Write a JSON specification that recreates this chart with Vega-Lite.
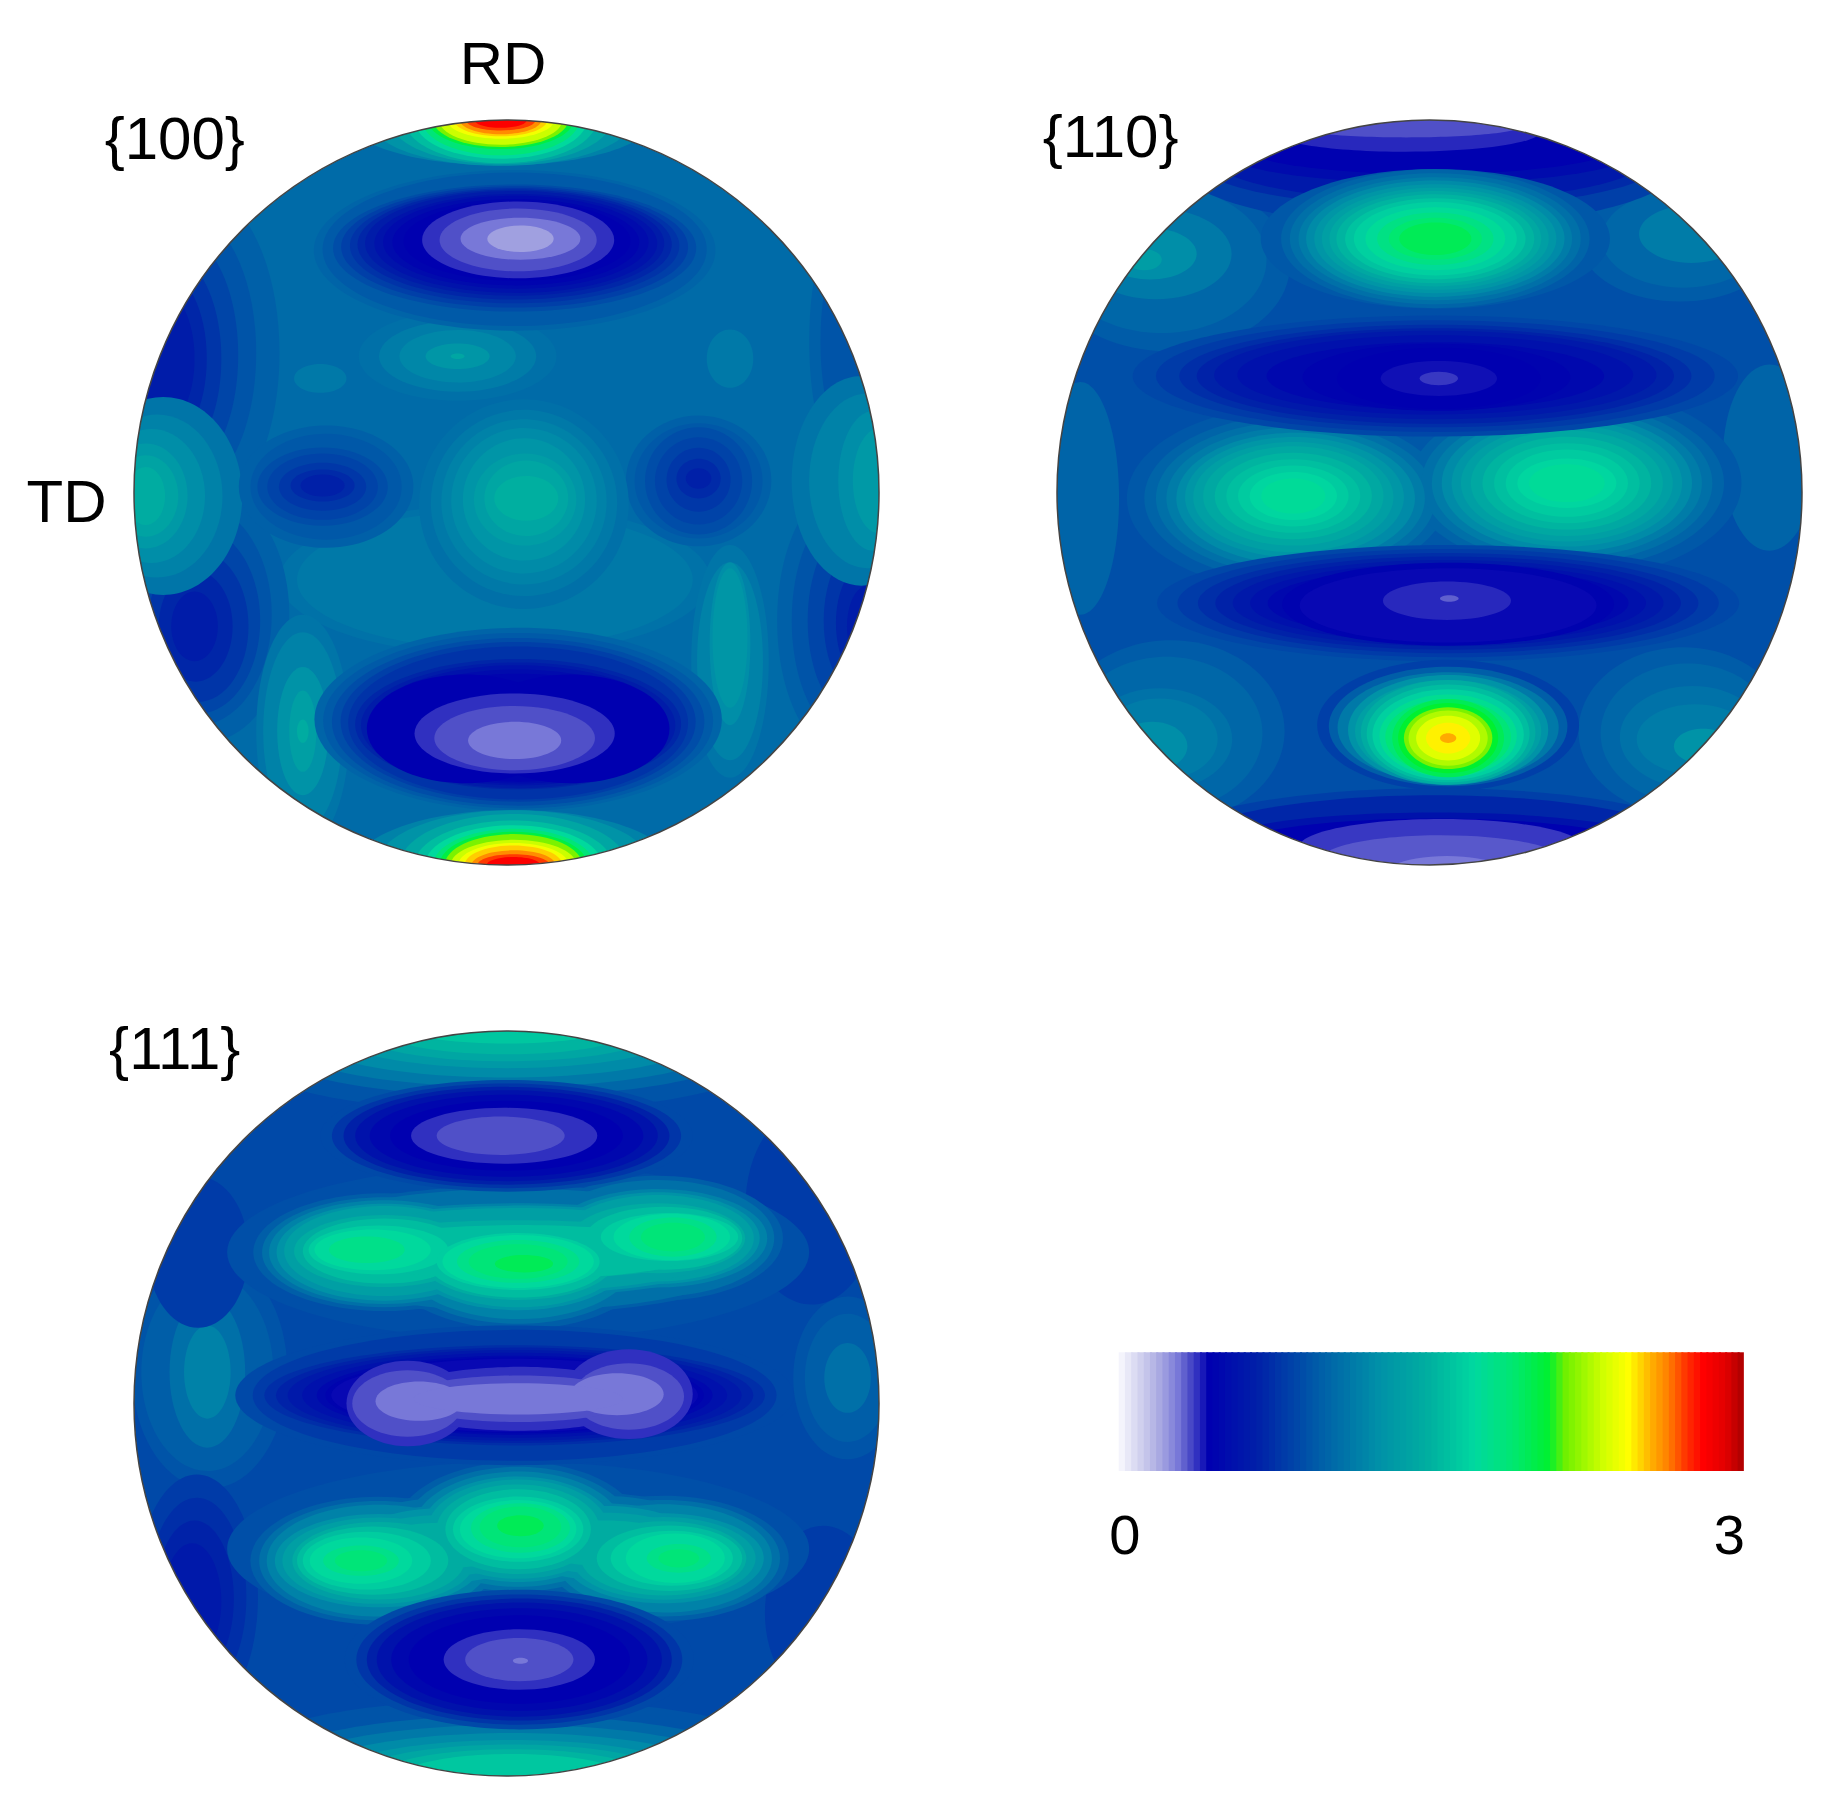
{"$schema":"https://vega.github.io/schema/vega-lite/v6.json","background":"white","padding":{"left":26,"top":36,"right":0,"bottom":0},"config":{"view":{"stroke":null},"text":{"font":"Liberation Sans"}},"datasets":{"blobs":[
{"p":100,"x":0,"y":0,"w":640,"a":1,"v":1.02},{"p":100,"x":-10,"y":75,"w":370,"a":0.35,"v":1.06},{"p":100,"x":-10,"y":75,"w":340,"a":0.35,"v":1.1},
{"p":100,"x":-265,"y":-120,"w":280,"a":2,"v":0.96},{"p":100,"x":-275,"y":-120,"w":240,"a":2,"v":0.9},{"p":100,"x":-283,"y":-118,"w":210,"a":2,"v":0.83},{"p":100,"x":-290,"y":-115,"w":180,"a":2,"v":0.75},{"p":100,"x":-295,"y":-115,"w":150,"a":2,"v":0.68},{"p":100,"x":-298,"y":-115,"w":120,"a":2,"v":0.62},
{"p":100,"x":-260,"y":105,"w":220,"a":1.5,"v":0.96},{"p":100,"x":-265,"y":105,"w":190,"a":1.5,"v":0.9},{"p":100,"x":-265,"y":110,"w":160,"a":1.5,"v":0.83},{"p":100,"x":-265,"y":115,"w":130,"a":1.5,"v":0.75},{"p":100,"x":-267,"y":115,"w":95,"a":1.5,"v":0.68},{"p":100,"x":-268,"y":115,"w":60,"a":1.5,"v":0.62},
{"p":100,"x":290,"y":110,"w":230,"a":2,"v":0.96},{"p":100,"x":295,"y":110,"w":200,"a":2,"v":0.9},{"p":100,"x":300,"y":110,"w":165,"a":2,"v":0.83},{"p":100,"x":305,"y":110,"w":130,"a":2,"v":0.75},{"p":100,"x":308,"y":112,"w":100,"a":2,"v":0.68},{"p":100,"x":310,"y":115,"w":70,"a":2,"v":0.62},{"p":100,"x":300,"y":-130,"w":240,"a":3,"v":0.96},{"p":100,"x":303,"y":-130,"w":200,"a":3,"v":0.9},
{"p":100,"x":-295,"y":3,"w":170,"a":1.25,"v":1.08},{"p":100,"x":-300,"y":3,"w":140,"a":1.25,"v":1.15},{"p":100,"x":-305,"y":3,"w":115,"a":1.25,"v":1.22},{"p":100,"x":-310,"y":3,"w":90,"a":1.25,"v":1.3},{"p":100,"x":-310,"y":3,"w":70,"a":1.25,"v":1.38},{"p":100,"x":-310,"y":3,"w":50,"a":1.5,"v":1.45},
{"p":100,"x":305,"y":-10,"w":180,"a":1.5,"v":1.08},{"p":100,"x":310,"y":-10,"w":150,"a":1.5,"v":1.15},{"p":100,"x":315,"y":-10,"w":120,"a":2,"v":1.22},{"p":100,"x":320,"y":-10,"w":90,"a":2,"v":1.3},
{"p":100,"x":-155,"y":-5,"w":150,"a":0.7,"v":0.96},{"p":100,"x":-155,"y":-5,"w":130,"a":0.7,"v":0.92},{"p":100,"x":-158,"y":-5,"w":112,"a":0.6,"v":0.87},{"p":100,"x":-158,"y":-5,"w":95,"a":0.6,"v":0.82},{"p":100,"x":-158,"y":-5,"w":75,"a":0.55,"v":0.76},{"p":100,"x":-158,"y":-6,"w":55,"a":0.5,"v":0.7},{"p":100,"x":-158,"y":-6,"w":38,"a":0.5,"v":0.65},
{"p":100,"x":165,"y":-10,"w":125,"a":0.9,"v":0.96},{"p":100,"x":165,"y":-10,"w":110,"a":0.9,"v":0.92},{"p":100,"x":165,"y":-10,"w":92,"a":1,"v":0.87},{"p":100,"x":165,"y":-10,"w":75,"a":1,"v":0.82},{"p":100,"x":165,"y":-11,"w":55,"a":1,"v":0.76},{"p":100,"x":165,"y":-12,"w":38,"a":0.9,"v":0.7},{"p":100,"x":165,"y":-12,"w":22,"a":0.8,"v":0.65},
{"p":100,"x":15,"y":10,"w":180,"a":1,"v":1.05},{"p":100,"x":15,"y":9,"w":160,"a":1,"v":1.1},{"p":100,"x":15,"y":8,"w":142,"a":1,"v":1.15},{"p":100,"x":15,"y":7,"w":125,"a":1,"v":1.2},{"p":100,"x":15,"y":6,"w":105,"a":1,"v":1.27},{"p":100,"x":16,"y":6,"w":88,"a":0.9,"v":1.33},{"p":100,"x":17,"y":5,"w":72,"a":0.9,"v":1.4},{"p":100,"x":17,"y":5,"w":55,"a":0.7,"v":1.47},
{"p":100,"x":-42,"y":-117,"w":170,"a":0.45,"v":1.05},{"p":100,"x":-42,"y":-117,"w":135,"a":0.45,"v":1.12},{"p":100,"x":-42,"y":-117,"w":100,"a":0.45,"v":1.18},{"p":100,"x":-42,"y":-117,"w":55,"a":0.4,"v":1.28},{"p":100,"x":-42,"y":-117,"w":12,"a":0.4,"v":1.4},
{"p":100,"x":-160,"y":-98,"w":45,"a":0.55,"v":1.1},{"p":100,"x":192,"y":-115,"w":50,"a":1.25,"v":1.1},
{"p":100,"x":-175,"y":205,"w":200,"a":2.5,"v":1.08},{"p":100,"x":-175,"y":205,"w":170,"a":2.5,"v":1.15},{"p":100,"x":-175,"y":205,"w":110,"a":2.5,"v":1.25},{"p":100,"x":-175,"y":205,"w":70,"a":3,"v":1.35},{"p":100,"x":-175,"y":205,"w":20,"a":2,"v":1.45},
{"p":100,"x":192,"y":145,"w":200,"a":3,"v":1.08},{"p":100,"x":192,"y":145,"w":170,"a":3,"v":1.15},{"p":100,"x":192,"y":130,"w":140,"a":4,"v":1.22},{"p":100,"x":192,"y":125,"w":120,"a":4,"v":1.28},
{"p":100,"x":7,"y":-208,"w":345,"a":0.4,"v":0.98},{"p":100,"x":7,"y":-209,"w":330,"a":0.4,"v":0.93},{"p":100,"x":7,"y":-210,"w":312,"a":0.35,"v":0.87},{"p":100,"x":7,"y":-211,"w":298,"a":0.35,"v":0.8},{"p":100,"x":7,"y":-212,"w":283,"a":0.35,"v":0.74},{"p":100,"x":7,"y":-213,"w":270,"a":0.35,"v":0.68},{"p":100,"x":7,"y":-214,"w":257,"a":0.35,"v":0.62},{"p":100,"x":8,"y":-214,"w":243,"a":0.35,"v":0.56},{"p":100,"x":8,"y":-215,"w":228,"a":0.35,"v":0.5},{"p":100,"x":8,"y":-215,"w":212,"a":0.35,"v":0.45},{"p":100,"x":9,"y":-216,"w":195,"a":0.35,"v":0.42},
{"p":100,"x":10,"y":-217,"w":165,"a":0.4,"v":0.36},{"p":100,"x":10,"y":-217,"w":135,"a":0.4,"v":0.32},{"p":100,"x":12,"y":-218,"w":103,"a":0.35,"v":0.27},{"p":100,"x":12,"y":-218,"w":57,"a":0.4,"v":0.2},
{"p":100,"x":10,"y":195,"w":350,"a":0.45,"v":0.98},{"p":100,"x":10,"y":196,"w":335,"a":0.45,"v":0.93},{"p":100,"x":10,"y":197,"w":320,"a":0.45,"v":0.87},{"p":100,"x":10,"y":197,"w":305,"a":0.45,"v":0.8},{"p":100,"x":10,"y":198,"w":292,"a":0.45,"v":0.74},{"p":100,"x":10,"y":199,"w":280,"a":0.4,"v":0.68},{"p":100,"x":10,"y":200,"w":270,"a":0.4,"v":0.62},{"p":100,"x":10,"y":200,"w":258,"a":0.4,"v":0.56},{"p":100,"x":10,"y":201,"w":245,"a":0.4,"v":0.5},{"p":100,"x":10,"y":202,"w":232,"a":0.4,"v":0.45},{"p":100,"x":-35,"y":203,"w":170,"a":0.55,"v":0.42},{"p":100,"x":55,"y":203,"w":170,"a":0.55,"v":0.42},
{"p":100,"x":7,"y":207,"w":172,"a":0.4,"v":0.36},{"p":100,"x":7,"y":211,"w":138,"a":0.4,"v":0.32},{"p":100,"x":7,"y":213,"w":80,"a":0.4,"v":0.27},
{"p":100,"x":-5,"y":-320,"w":260,"a":0.3,"v":1.15},{"p":100,"x":-5,"y":-320,"w":225,"a":0.35,"v":1.25},{"p":100,"x":-5,"y":-320,"w":190,"a":0.4,"v":1.4},{"p":100,"x":-5,"y":-320,"w":165,"a":0.45,"v":1.55},{"p":100,"x":-5,"y":-320,"w":148,"a":0.45,"v":1.7},{"p":100,"x":-5,"y":-320,"w":135,"a":0.45,"v":1.85},{"p":100,"x":-5,"y":-320,"w":125,"a":0.4,"v":2},{"p":100,"x":-5,"y":-320,"w":116,"a":0.4,"v":2.15},{"p":100,"x":-5,"y":-320,"w":106,"a":0.4,"v":2.3},{"p":100,"x":-5,"y":-320,"w":92,"a":0.35,"v":2.4},{"p":100,"x":-5,"y":-320,"w":80,"a":0.35,"v":2.5},{"p":100,"x":-5,"y":-320,"w":70,"a":0.35,"v":2.6},{"p":100,"x":-5,"y":-320,"w":60,"a":0.3,"v":2.7},{"p":100,"x":-5,"y":-320,"w":45,"a":0.3,"v":2.8},
{"p":100,"x":6,"y":320,"w":270,"a":0.35,"v":1.15},{"p":100,"x":6,"y":320,"w":235,"a":0.4,"v":1.25},{"p":100,"x":6,"y":320,"w":195,"a":0.45,"v":1.4},{"p":100,"x":6,"y":320,"w":170,"a":0.45,"v":1.55},{"p":100,"x":6,"y":320,"w":152,"a":0.45,"v":1.7},{"p":100,"x":6,"y":320,"w":138,"a":0.45,"v":1.85},{"p":100,"x":6,"y":320,"w":127,"a":0.45,"v":2},{"p":100,"x":6,"y":320,"w":118,"a":0.45,"v":2.15},{"p":100,"x":6,"y":320,"w":108,"a":0.4,"v":2.3},{"p":100,"x":6,"y":320,"w":95,"a":0.4,"v":2.4},{"p":100,"x":6,"y":320,"w":84,"a":0.4,"v":2.5},{"p":100,"x":6,"y":320,"w":72,"a":0.35,"v":2.6},{"p":100,"x":6,"y":320,"w":62,"a":0.3,"v":2.7},{"p":100,"x":6,"y":320,"w":46,"a":0.3,"v":2.8},

{"p":110,"x":0,"y":0,"w":640,"a":1,"v":0.88},
{"p":110,"x":-225,"y":-195,"w":210,"a":0.7,"v":0.94},{"p":110,"x":-230,"y":-200,"w":180,"a":0.7,"v":1},{"p":110,"x":-235,"y":-205,"w":130,"a":0.6,"v":1.1},{"p":110,"x":-240,"y":-205,"w":80,"a":0.55,"v":1.22},{"p":110,"x":-245,"y":-200,"w":30,"a":0.6,"v":1.33},
{"p":110,"x":215,"y":-215,"w":170,"a":0.6,"v":0.94},{"p":110,"x":218,"y":-218,"w":140,"a":0.6,"v":1},{"p":110,"x":225,"y":-222,"w":90,"a":0.55,"v":1.12},
{"p":110,"x":-222,"y":205,"w":195,"a":0.8,"v":0.94},{"p":110,"x":-226,"y":207,"w":165,"a":0.8,"v":1},{"p":110,"x":-232,"y":212,"w":125,"a":0.7,"v":1.06},{"p":110,"x":-232,"y":212,"w":100,"a":0.7,"v":1.12},{"p":110,"x":-238,"y":218,"w":60,"a":0.7,"v":1.22},
{"p":110,"x":218,"y":205,"w":180,"a":0.8,"v":0.94},{"p":110,"x":222,"y":207,"w":150,"a":0.8,"v":1},{"p":110,"x":226,"y":210,"w":125,"a":0.7,"v":1.06},{"p":110,"x":228,"y":212,"w":100,"a":0.6,"v":1.12},{"p":110,"x":235,"y":218,"w":50,"a":0.6,"v":1.25},
{"p":110,"x":292,"y":-30,"w":160,"a":2,"v":0.98},{"p":110,"x":-300,"y":5,"w":200,"a":3,"v":0.98},
{"p":110,"x":-115,"y":5,"w":290,"a":0.55,"v":0.92},{"p":110,"x":118,"y":-8,"w":300,"a":0.55,"v":0.92},
{"p":110,"x":-115,"y":5,"w":260,"a":0.55,"v":0.98},{"p":110,"x":118,"y":-8,"w":270,"a":0.55,"v":0.98},
{"p":110,"x":-115,"y":5,"w":240,"a":0.55,"v":1.05},{"p":110,"x":118,"y":-8,"w":250,"a":0.55,"v":1.05},
{"p":110,"x":-115,"y":5,"w":222,"a":0.55,"v":1.12},{"p":110,"x":118,"y":-8,"w":232,"a":0.55,"v":1.12},
{"p":110,"x":-115,"y":5,"w":205,"a":0.55,"v":1.2},{"p":110,"x":118,"y":-8,"w":215,"a":0.55,"v":1.2},
{"p":110,"x":-116,"y":4,"w":188,"a":0.55,"v":1.28},{"p":110,"x":118,"y":-8,"w":198,"a":0.55,"v":1.28},
{"p":110,"x":-117,"y":4,"w":172,"a":0.55,"v":1.35},{"p":110,"x":118,"y":-8,"w":182,"a":0.55,"v":1.35},
{"p":110,"x":-117,"y":3,"w":155,"a":0.55,"v":1.42},{"p":110,"x":118,"y":-8,"w":165,"a":0.55,"v":1.42},
{"p":110,"x":-117,"y":3,"w":135,"a":0.55,"v":1.5},{"p":110,"x":118,"y":-8,"w":145,"a":0.55,"v":1.5},
{"p":110,"x":-117,"y":3,"w":115,"a":0.55,"v":1.56},{"p":110,"x":118,"y":-8,"w":125,"a":0.55,"v":1.56},
{"p":110,"x":-117,"y":3,"w":95,"a":0.55,"v":1.62},{"p":110,"x":118,"y":-8,"w":105,"a":0.55,"v":1.62},
{"p":110,"x":-117,"y":3,"w":75,"a":0.55,"v":1.68},{"p":110,"x":118,"y":-8,"w":85,"a":0.5,"v":1.68},
{"p":110,"x":-117,"y":3,"w":55,"a":0.55,"v":1.72},{"p":110,"x":118,"y":-8,"w":65,"a":0.5,"v":1.72},
{"p":110,"x":0,"y":-282,"w":430,"a":0.25,"v":0.8},{"p":110,"x":0,"y":-285,"w":400,"a":0.2,"v":0.7},{"p":110,"x":0,"y":-288,"w":375,"a":0.2,"v":0.6},{"p":110,"x":0,"y":-292,"w":350,"a":0.15,"v":0.5},{"p":110,"x":0,"y":-298,"w":325,"a":0.15,"v":0.43},{"p":110,"x":-20,"y":-310,"w":230,"a":0.15,"v":0.37},{"p":110,"x":-20,"y":-315,"w":200,"a":0.1,"v":0.32},
{"p":110,"x":5,"y":-218,"w":300,"a":0.4,"v":0.92},{"p":110,"x":5,"y":-218,"w":265,"a":0.45,"v":0.98},{"p":110,"x":5,"y":-218,"w":250,"a":0.45,"v":1.05},{"p":110,"x":5,"y":-218,"w":235,"a":0.45,"v":1.12},{"p":110,"x":5,"y":-218,"w":222,"a":0.45,"v":1.2},{"p":110,"x":5,"y":-218,"w":208,"a":0.45,"v":1.28},{"p":110,"x":5,"y":-218,"w":195,"a":0.45,"v":1.35},{"p":110,"x":5,"y":-218,"w":182,"a":0.45,"v":1.42},{"p":110,"x":5,"y":-218,"w":170,"a":0.45,"v":1.5},{"p":110,"x":5,"y":-218,"w":155,"a":0.45,"v":1.58},{"p":110,"x":5,"y":-218,"w":140,"a":0.45,"v":1.65},{"p":110,"x":5,"y":-218,"w":120,"a":0.45,"v":1.72},{"p":110,"x":5,"y":-218,"w":100,"a":0.45,"v":1.8},{"p":110,"x":5,"y":-218,"w":80,"a":0.45,"v":1.88},{"p":110,"x":5,"y":-218,"w":62,"a":0.45,"v":1.95},
{"p":110,"x":5,"y":-100,"w":520,"a":0.2,"v":0.84},{"p":110,"x":5,"y":-100,"w":480,"a":0.2,"v":0.78},{"p":110,"x":5,"y":-100,"w":440,"a":0.2,"v":0.72},{"p":110,"x":5,"y":-100,"w":410,"a":0.2,"v":0.66},{"p":110,"x":5,"y":-101,"w":380,"a":0.2,"v":0.6},{"p":110,"x":5,"y":-101,"w":340,"a":0.2,"v":0.54},{"p":110,"x":5,"y":-100,"w":290,"a":0.2,"v":0.48},{"p":110,"x":6,"y":-99,"w":230,"a":0.25,"v":0.44},{"p":110,"x":8,"y":-98,"w":175,"a":0.3,"v":0.42},{"p":110,"x":8,"y":-98,"w":100,"a":0.3,"v":0.4},{"p":110,"x":8,"y":-98,"w":33,"a":0.35,"v":0.35},
{"p":110,"x":16,"y":95,"w":500,"a":0.2,"v":0.84},{"p":110,"x":16,"y":95,"w":465,"a":0.2,"v":0.78},{"p":110,"x":16,"y":95,"w":430,"a":0.2,"v":0.72},{"p":110,"x":16,"y":95,"w":400,"a":0.2,"v":0.66},{"p":110,"x":16,"y":95,"w":370,"a":0.2,"v":0.6},{"p":110,"x":16,"y":95,"w":340,"a":0.2,"v":0.54},{"p":110,"x":16,"y":95,"w":310,"a":0.2,"v":0.48},{"p":110,"x":16,"y":96,"w":285,"a":0.25,"v":0.44},{"p":110,"x":16,"y":97,"w":255,"a":0.25,"v":0.41},{"p":110,"x":15,"y":93,"w":110,"a":0.3,"v":0.37},{"p":110,"x":17,"y":91,"w":16,"a":0.35,"v":0.3},
{"p":110,"x":16,"y":200,"w":225,"a":0.5,"v":0.8},{"p":110,"x":16,"y":201,"w":205,"a":0.5,"v":0.95},{"p":110,"x":16,"y":202,"w":190,"a":0.5,"v":1.1},{"p":110,"x":16,"y":204,"w":172,"a":0.55,"v":1.25},{"p":110,"x":16,"y":205,"w":160,"a":0.55,"v":1.35},{"p":110,"x":16,"y":206,"w":150,"a":0.6,"v":1.45},{"p":110,"x":16,"y":207,"w":140,"a":0.6,"v":1.55},{"p":110,"x":16,"y":208,"w":130,"a":0.6,"v":1.65},{"p":110,"x":16,"y":209,"w":118,"a":0.6,"v":1.75},{"p":110,"x":16,"y":210,"w":108,"a":0.6,"v":1.85},{"p":110,"x":16,"y":211,"w":96,"a":0.7,"v":1.95},{"p":110,"x":16,"y":211,"w":86,"a":0.7,"v":2.05},{"p":110,"x":16,"y":211,"w":76,"a":0.7,"v":2.15},{"p":110,"x":16,"y":211,"w":68,"a":0.7,"v":2.25},{"p":110,"x":16,"y":211,"w":55,"a":0.7,"v":2.35},{"p":110,"x":16,"y":211,"w":38,"a":0.7,"v":2.45},{"p":110,"x":16,"y":211,"w":14,"a":0.6,"v":2.55},
{"p":110,"x":5,"y":300,"w":460,"a":0.2,"v":0.8},{"p":110,"x":5,"y":303,"w":430,"a":0.2,"v":0.68},{"p":110,"x":5,"y":305,"w":400,"a":0.15,"v":0.55},{"p":110,"x":5,"y":307,"w":360,"a":0.15,"v":0.43},{"p":110,"x":10,"y":305,"w":245,"a":0.2,"v":0.35},{"p":110,"x":10,"y":315,"w":205,"a":0.2,"v":0.31},{"p":110,"x":15,"y":328,"w":105,"a":0.3,"v":0.27},

{"p":111,"x":0,"y":0,"w":640,"a":1,"v":0.85},
{"p":111,"x":0,"y":-295,"w":440,"a":0.2,"v":0.9},{"p":111,"x":0,"y":-305,"w":410,"a":0.2,"v":1},{"p":111,"x":0,"y":-310,"w":380,"a":0.2,"v":1.1},{"p":111,"x":0,"y":-314,"w":340,"a":0.2,"v":1.2},{"p":111,"x":0,"y":-318,"w":300,"a":0.2,"v":1.3},{"p":111,"x":0,"y":-320,"w":260,"a":0.2,"v":1.4},{"p":111,"x":0,"y":-322,"w":220,"a":0.2,"v":1.5},{"p":111,"x":0,"y":-322,"w":170,"a":0.15,"v":1.6},
{"p":111,"x":5,"y":300,"w":460,"a":0.2,"v":0.9},{"p":111,"x":5,"y":310,"w":420,"a":0.2,"v":1},{"p":111,"x":5,"y":315,"w":390,"a":0.2,"v":1.1},{"p":111,"x":5,"y":318,"w":350,"a":0.2,"v":1.2},{"p":111,"x":5,"y":320,"w":310,"a":0.2,"v":1.3},{"p":111,"x":5,"y":320,"w":270,"a":0.2,"v":1.4},{"p":111,"x":5,"y":320,"w":230,"a":0.2,"v":1.5},{"p":111,"x":5,"y":320,"w":190,"a":0.2,"v":1.6},
{"p":111,"x":-255,"y":-27,"w":200,"a":1.5,"v":0.9},{"p":111,"x":-257,"y":-27,"w":170,"a":1.5,"v":0.95},{"p":111,"x":-257,"y":-27,"w":130,"a":2,"v":1.05},{"p":111,"x":-257,"y":-27,"w":80,"a":2,"v":1.15},
{"p":111,"x":293,"y":-22,"w":140,"a":1.5,"v":0.9},{"p":111,"x":293,"y":-22,"w":110,"a":1.5,"v":0.95},{"p":111,"x":293,"y":-22,"w":60,"a":1.5,"v":1.05},
{"p":111,"x":-266,"y":166,"w":210,"a":2,"v":0.78},{"p":111,"x":-266,"y":166,"w":170,"a":2,"v":0.72},{"p":111,"x":-268,"y":168,"w":135,"a":2,"v":0.66},{"p":111,"x":-270,"y":170,"w":100,"a":2,"v":0.6},
{"p":111,"x":262,"y":-170,"w":170,"a":1.5,"v":0.78},{"p":111,"x":-265,"y":-130,"w":130,"a":1.5,"v":0.78},{"p":111,"x":272,"y":180,"w":150,"a":1.5,"v":0.78},
{"p":111,"x":10,"y":-130,"w":500,"a":0.3,"v":0.88},
{"p":111,"x":-105,"y":-130,"w":225,"a":0.45,"v":0.95},{"p":111,"x":10,"y":-120,"w":225,"a":0.5,"v":0.95},{"p":111,"x":130,"y":-142,"w":215,"a":0.5,"v":0.95},{"p":111,"x":10,"y":-132,"w":440,"a":0.25,"v":0.95},
{"p":111,"x":-105,"y":-130,"w":210,"a":0.45,"v":1.05},{"p":111,"x":10,"y":-121,"w":210,"a":0.5,"v":1.05},{"p":111,"x":130,"y":-142,"w":200,"a":0.5,"v":1.05},{"p":111,"x":10,"y":-132,"w":420,"a":0.25,"v":1.05},
{"p":111,"x":-105,"y":-130,"w":198,"a":0.45,"v":1.15},{"p":111,"x":10,"y":-122,"w":198,"a":0.5,"v":1.15},{"p":111,"x":130,"y":-142,"w":188,"a":0.45,"v":1.15},{"p":111,"x":10,"y":-132,"w":400,"a":0.2,"v":1.15},
{"p":111,"x":-105,"y":-130,"w":185,"a":0.45,"v":1.25},{"p":111,"x":10,"y":-122,"w":186,"a":0.45,"v":1.25},{"p":111,"x":130,"y":-142,"w":175,"a":0.45,"v":1.25},{"p":111,"x":10,"y":-132,"w":380,"a":0.2,"v":1.25},
{"p":111,"x":-105,"y":-131,"w":172,"a":0.45,"v":1.35},{"p":111,"x":10,"y":-122,"w":175,"a":0.45,"v":1.35},{"p":111,"x":130,"y":-142,"w":165,"a":0.45,"v":1.35},{"p":111,"x":10,"y":-132,"w":360,"a":0.2,"v":1.35},
{"p":111,"x":-105,"y":-131,"w":155,"a":0.4,"v":1.45},{"p":111,"x":10,"y":-122,"w":165,"a":0.4,"v":1.45},{"p":111,"x":130,"y":-142,"w":150,"a":0.4,"v":1.45},{"p":111,"x":10,"y":-132,"w":340,"a":0.15,"v":1.45},
{"p":111,"x":-105,"y":-131,"w":140,"a":0.4,"v":1.55},{"p":111,"x":10,"y":-122,"w":155,"a":0.4,"v":1.55},{"p":111,"x":135,"y":-142,"w":135,"a":0.4,"v":1.55},{"p":111,"x":10,"y":-130,"w":310,"a":0.15,"v":1.55},
{"p":111,"x":-110,"y":-132,"w":120,"a":0.35,"v":1.63},{"p":111,"x":10,"y":-122,"w":140,"a":0.35,"v":1.63},{"p":111,"x":140,"y":-143,"w":118,"a":0.35,"v":1.63},
{"p":111,"x":-115,"y":-132,"w":100,"a":0.35,"v":1.7},{"p":111,"x":10,"y":-122,"w":130,"a":0.35,"v":1.7},{"p":111,"x":142,"y":-143,"w":100,"a":0.4,"v":1.7},
{"p":111,"x":-120,"y":-132,"w":65,"a":0.35,"v":1.78},{"p":111,"x":10,"y":-122,"w":105,"a":0.35,"v":1.78},{"p":111,"x":143,"y":-143,"w":75,"a":0.45,"v":1.78},
{"p":111,"x":10,"y":-122,"w":85,"a":0.35,"v":1.85},{"p":111,"x":143,"y":-143,"w":55,"a":0.45,"v":1.85},{"p":111,"x":15,"y":-120,"w":50,"a":0.3,"v":1.95},
{"p":111,"x":10,"y":125,"w":500,"a":0.3,"v":0.88},
{"p":111,"x":-110,"y":135,"w":220,"a":0.5,"v":0.95},{"p":111,"x":10,"y":108,"w":210,"a":0.55,"v":0.95},{"p":111,"x":135,"y":133,"w":215,"a":0.5,"v":0.95},{"p":111,"x":-55,"y":122,"w":190,"a":0.45,"v":0.95},{"p":111,"x":85,"y":120,"w":190,"a":0.45,"v":0.95},
{"p":111,"x":-110,"y":135,"w":205,"a":0.5,"v":1.05},{"p":111,"x":10,"y":108,"w":195,"a":0.55,"v":1.05},{"p":111,"x":135,"y":133,"w":200,"a":0.5,"v":1.05},{"p":111,"x":-55,"y":122,"w":180,"a":0.45,"v":1.05},{"p":111,"x":85,"y":120,"w":180,"a":0.45,"v":1.05},
{"p":111,"x":-110,"y":135,"w":192,"a":0.5,"v":1.15},{"p":111,"x":10,"y":108,"w":180,"a":0.55,"v":1.15},{"p":111,"x":135,"y":133,"w":186,"a":0.5,"v":1.15},{"p":111,"x":-55,"y":122,"w":170,"a":0.4,"v":1.15},{"p":111,"x":85,"y":120,"w":170,"a":0.4,"v":1.15},
{"p":111,"x":-110,"y":135,"w":178,"a":0.45,"v":1.25},{"p":111,"x":10,"y":108,"w":165,"a":0.55,"v":1.25},{"p":111,"x":135,"y":133,"w":172,"a":0.45,"v":1.25},{"p":111,"x":-55,"y":122,"w":160,"a":0.4,"v":1.25},{"p":111,"x":85,"y":120,"w":160,"a":0.4,"v":1.25},
{"p":111,"x":-110,"y":135,"w":165,"a":0.45,"v":1.35},{"p":111,"x":10,"y":108,"w":155,"a":0.55,"v":1.35},{"p":111,"x":135,"y":133,"w":158,"a":0.45,"v":1.35},{"p":111,"x":-55,"y":122,"w":150,"a":0.35,"v":1.35},{"p":111,"x":85,"y":120,"w":150,"a":0.35,"v":1.35},
{"p":111,"x":-110,"y":135,"w":148,"a":0.45,"v":1.45},{"p":111,"x":10,"y":108,"w":140,"a":0.55,"v":1.45},{"p":111,"x":135,"y":133,"w":142,"a":0.45,"v":1.45},{"p":111,"x":-55,"y":122,"w":130,"a":0.3,"v":1.45},{"p":111,"x":85,"y":120,"w":130,"a":0.3,"v":1.45},
{"p":111,"x":-115,"y":135,"w":130,"a":0.45,"v":1.55},{"p":111,"x":10,"y":108,"w":125,"a":0.55,"v":1.55},{"p":111,"x":140,"y":133,"w":125,"a":0.45,"v":1.55},
{"p":111,"x":-120,"y":135,"w":110,"a":0.45,"v":1.63},{"p":111,"x":10,"y":108,"w":112,"a":0.5,"v":1.63},{"p":111,"x":142,"y":133,"w":105,"a":0.45,"v":1.63},
{"p":111,"x":-125,"y":135,"w":88,"a":0.45,"v":1.7},{"p":111,"x":10,"y":108,"w":100,"a":0.5,"v":1.7},{"p":111,"x":145,"y":133,"w":85,"a":0.5,"v":1.7},
{"p":111,"x":-125,"y":135,"w":65,"a":0.4,"v":1.78},{"p":111,"x":12,"y":107,"w":85,"a":0.5,"v":1.78},{"p":111,"x":148,"y":133,"w":55,"a":0.45,"v":1.78},
{"p":111,"x":-125,"y":135,"w":45,"a":0.4,"v":1.85},{"p":111,"x":12,"y":106,"w":70,"a":0.5,"v":1.85},{"p":111,"x":148,"y":133,"w":35,"a":0.45,"v":1.85},{"p":111,"x":12,"y":105,"w":40,"a":0.45,"v":1.95},
{"p":111,"x":7,"y":-7,"w":480,"a":0.25,"v":0.85},{"p":111,"x":7,"y":-7,"w":450,"a":0.25,"v":0.78},{"p":111,"x":7,"y":-7,"w":430,"a":0.2,"v":0.72},{"p":111,"x":7,"y":-7,"w":410,"a":0.2,"v":0.66},{"p":111,"x":7,"y":-7,"w":390,"a":0.2,"v":0.6},{"p":111,"x":7,"y":-7,"w":365,"a":0.2,"v":0.54},{"p":111,"x":7,"y":-7,"w":340,"a":0.2,"v":0.48},{"p":111,"x":7,"y":-7,"w":325,"a":0.2,"v":0.44},{"p":111,"x":7,"y":-7,"w":315,"a":0.2,"v":0.41},
{"p":111,"x":-85,"y":0,"w":105,"a":0.7,"v":0.36},{"p":111,"x":105,"y":-8,"w":110,"a":0.7,"v":0.36},{"p":111,"x":10,"y":-4,"w":220,"a":0.25,"v":0.36},
{"p":111,"x":-85,"y":0,"w":95,"a":0.6,"v":0.32},{"p":111,"x":105,"y":-6,"w":95,"a":0.6,"v":0.32},{"p":111,"x":10,"y":-4,"w":200,"a":0.2,"v":0.32},
{"p":111,"x":-75,"y":-2,"w":75,"a":0.45,"v":0.27},{"p":111,"x":95,"y":-8,"w":80,"a":0.45,"v":0.27},{"p":111,"x":10,"y":-4,"w":180,"a":0.15,"v":0.27},
{"p":111,"x":0,"y":-230,"w":320,"a":0.3,"v":0.85},{"p":111,"x":0,"y":-230,"w":300,"a":0.3,"v":0.75},{"p":111,"x":0,"y":-230,"w":280,"a":0.3,"v":0.65},{"p":111,"x":0,"y":-230,"w":260,"a":0.3,"v":0.55},{"p":111,"x":0,"y":-230,"w":235,"a":0.3,"v":0.47},{"p":111,"x":0,"y":-230,"w":200,"a":0.3,"v":0.42},{"p":111,"x":-2,"y":-230,"w":160,"a":0.3,"v":0.36},{"p":111,"x":-5,"y":-230,"w":110,"a":0.3,"v":0.32},
{"p":111,"x":11,"y":220,"w":300,"a":0.4,"v":0.85},{"p":111,"x":11,"y":220,"w":280,"a":0.4,"v":0.75},{"p":111,"x":11,"y":220,"w":262,"a":0.4,"v":0.65},{"p":111,"x":11,"y":220,"w":245,"a":0.4,"v":0.55},{"p":111,"x":11,"y":220,"w":220,"a":0.4,"v":0.47},{"p":111,"x":11,"y":220,"w":190,"a":0.4,"v":0.42},{"p":111,"x":11,"y":220,"w":130,"a":0.4,"v":0.36},{"p":111,"x":11,"y":220,"w":93,"a":0.4,"v":0.32},{"p":111,"x":12,"y":221,"w":13,"a":0.4,"v":0.27}
],
"labels":[{"p":100,"x":-3,"y":-366,"t":"RD"},{"p":100,"x":-378,"y":10,"t":"TD"},{"p":100,"x":-285,"y":-302,"t":"{100}"},{"p":110,"x":-274,"y":-304,"t":"{110}"},{"p":111,"x":-285,"y":-303,"t":"{111}"}],
"rim":[{"x":0,"y":0,"w":829,"k":"mask"},{"x":0,"y":0,"w":640,"k":"edge"}],
"bar":[{"v":0,"e":0.04},{"v":0.03,"e":0.07},{"v":0.06,"e":0.1},{"v":0.09,"e":0.13},{"v":0.12,"e":0.16},{"v":0.15,"e":0.19},{"v":0.18,"e":0.22},{"v":0.21,"e":0.25},{"v":0.24,"e":0.28},{"v":0.27,"e":0.31},{"v":0.3,"e":0.34},{"v":0.33,"e":0.37},{"v":0.36,"e":0.4},{"v":0.39,"e":0.43},{"v":0.42,"e":0.46},{"v":0.45,"e":0.49},{"v":0.48,"e":0.52},{"v":0.51,"e":0.55},{"v":0.54,"e":0.58},{"v":0.57,"e":0.61},{"v":0.6,"e":0.64},{"v":0.63,"e":0.67},{"v":0.66,"e":0.7},{"v":0.69,"e":0.73},{"v":0.72,"e":0.76},{"v":0.75,"e":0.79},{"v":0.78,"e":0.82},{"v":0.81,"e":0.85},{"v":0.84,"e":0.88},{"v":0.87,"e":0.91},{"v":0.9,"e":0.94},{"v":0.93,"e":0.97},{"v":0.96,"e":1},{"v":0.99,"e":1.03},{"v":1.02,"e":1.06},{"v":1.05,"e":1.09},{"v":1.08,"e":1.12},{"v":1.11,"e":1.15},{"v":1.14,"e":1.18},{"v":1.17,"e":1.21},{"v":1.2,"e":1.24},{"v":1.23,"e":1.27},{"v":1.26,"e":1.3},{"v":1.29,"e":1.33},{"v":1.32,"e":1.36},{"v":1.35,"e":1.39},{"v":1.38,"e":1.42},{"v":1.41,"e":1.45},{"v":1.44,"e":1.48},{"v":1.47,"e":1.51},{"v":1.5,"e":1.54},{"v":1.53,"e":1.57},{"v":1.56,"e":1.6},{"v":1.59,"e":1.63},{"v":1.62,"e":1.66},{"v":1.65,"e":1.69},{"v":1.68,"e":1.72},{"v":1.71,"e":1.75},{"v":1.74,"e":1.78},{"v":1.77,"e":1.81},{"v":1.8,"e":1.84},{"v":1.83,"e":1.87},{"v":1.86,"e":1.9},{"v":1.89,"e":1.93},{"v":1.92,"e":1.96},{"v":1.95,"e":1.99},{"v":1.98,"e":2.02},{"v":2.01,"e":2.05},{"v":2.04,"e":2.08},{"v":2.07,"e":2.11},{"v":2.1,"e":2.14},{"v":2.13,"e":2.17},{"v":2.16,"e":2.2},{"v":2.19,"e":2.23},{"v":2.22,"e":2.26},{"v":2.25,"e":2.29},{"v":2.28,"e":2.32},{"v":2.31,"e":2.35},{"v":2.34,"e":2.38},{"v":2.37,"e":2.41},{"v":2.4,"e":2.44},{"v":2.43,"e":2.47},{"v":2.46,"e":2.5},{"v":2.49,"e":2.53},{"v":2.52,"e":2.56},{"v":2.55,"e":2.59},{"v":2.58,"e":2.62},{"v":2.61,"e":2.65},{"v":2.64,"e":2.68},{"v":2.67,"e":2.71},{"v":2.7,"e":2.74},{"v":2.73,"e":2.77},{"v":2.76,"e":2.8},{"v":2.79,"e":2.83},{"v":2.82,"e":2.86},{"v":2.85,"e":2.89},{"v":2.88,"e":2.92},{"v":2.91,"e":2.95},{"v":2.94,"e":2.98},{"v":2.97,"e":3}],
"barlabels":[{"v":0.03,"y":115,"t":"0"},{"v":2.93,"y":115,"t":"3"}]},
"concat":[
{"width":745,"height":745,"layer":[
{"data":{"name":"blobs"},"transform":[{"filter":{"field":"p","equal":100}}],"mark":{"type":"point","filled":true,"opacity":1,"strokeWidth":0,"clip":true},"encoding":{"x":{"field":"x","type":"quantitative","axis":null,"scale":{"domain":[-320,320],"nice":false}},"y":{"field":"y","type":"quantitative","axis":null,"scale":{"domain":[320,-320],"nice":false}},"size":{"field":"w","type":"quantitative","legend":null,"scale":{"type":"pow","exponent":2,"domain":[0,640],"range":[0,555025]}},"shape":{"field":"a","type":"nominal","legend":null,"scale":{"domain":[0.1,0.15,0.2,0.25,0.3,0.35,0.4,0.45,0.5,0.55,0.6,0.7,0.8,0.9,1,1.25,1.5,2,2.5,3,4],"range":["M-1,0C-1,-.055,-.552,-.1,0,-.1C.552,-.1,1,-.055,1,0C1,.055,.552,.1,0,.1C-.552,.1,-1,.055,-1,0Z","M-1,0C-1,-.083,-.552,-.15,0,-.15C.552,-.15,1,-.083,1,0C1,.083,.552,.15,0,.15C-.552,.15,-1,.083,-1,0Z","M-1,0C-1,-.11,-.552,-.2,0,-.2C.552,-.2,1,-.11,1,0C1,.11,.552,.2,0,.2C-.552,.2,-1,.11,-1,0Z","M-1,0C-1,-.138,-.552,-.25,0,-.25C.552,-.25,1,-.138,1,0C1,.138,.552,.25,0,.25C-.552,.25,-1,.138,-1,0Z","M-1,0C-1,-.166,-.552,-.3,0,-.3C.552,-.3,1,-.166,1,0C1,.166,.552,.3,0,.3C-.552,.3,-1,.166,-1,0Z","M-1,0C-1,-.193,-.552,-.35,0,-.35C.552,-.35,1,-.193,1,0C1,.193,.552,.35,0,.35C-.552,.35,-1,.193,-1,0Z","M-1,0C-1,-.221,-.552,-.4,0,-.4C.552,-.4,1,-.221,1,0C1,.221,.552,.4,0,.4C-.552,.4,-1,.221,-1,0Z","M-1,0C-1,-.248,-.552,-.45,0,-.45C.552,-.45,1,-.248,1,0C1,.248,.552,.45,0,.45C-.552,.45,-1,.248,-1,0Z","M-1,0C-1,-.276,-.552,-.5,0,-.5C.552,-.5,1,-.276,1,0C1,.276,.552,.5,0,.5C-.552,.5,-1,.276,-1,0Z","M-1,0C-1,-.304,-.552,-.55,0,-.55C.552,-.55,1,-.304,1,0C1,.304,.552,.55,0,.55C-.552,.55,-1,.304,-1,0Z","M-1,0C-1,-.331,-.552,-.6,0,-.6C.552,-.6,1,-.331,1,0C1,.331,.552,.6,0,.6C-.552,.6,-1,.331,-1,0Z","M-1,0C-1,-.386,-.552,-.7,0,-.7C.552,-.7,1,-.386,1,0C1,.386,.552,.7,0,.7C-.552,.7,-1,.386,-1,0Z","M-1,0C-1,-.442,-.552,-.8,0,-.8C.552,-.8,1,-.442,1,0C1,.442,.552,.8,0,.8C-.552,.8,-1,.442,-1,0Z","M-1,0C-1,-.497,-.552,-.9,0,-.9C.552,-.9,1,-.497,1,0C1,.497,.552,.9,0,.9C-.552,.9,-1,.497,-1,0Z","M-1,0C-1,-.552,-.552,-1,0,-1C.552,-1,1,-.552,1,0C1,.552,.552,1,0,1C-.552,1,-1,.552,-1,0Z","M-.8,0C-.8,-.552,-.442,-1,0,-1C.442,-1,.8,-.552,.8,0C.8,.552,.442,1,0,1C-.442,1,-.8,.552,-.8,0Z","M-.667,0C-.667,-.552,-.368,-1,0,-1C.368,-1,.667,-.552,.667,0C.667,.552,.368,1,0,1C-.368,1,-.667,.552,-.667,0Z","M-.5,0C-.5,-.552,-.276,-1,0,-1C.276,-1,.5,-.552,.5,0C.5,.552,.276,1,0,1C-.276,1,-.5,.552,-.5,0Z","M-.4,0C-.4,-.552,-.221,-1,0,-1C.221,-1,.4,-.552,.4,0C.4,.552,.221,1,0,1C-.221,1,-.4,.552,-.4,0Z","M-.333,0C-.333,-.552,-.184,-1,0,-1C.184,-1,.333,-.552,.333,0C.333,.552,.184,1,0,1C-.184,1,-.333,.552,-.333,0Z","M-.25,0C-.25,-.552,-.138,-1,0,-1C.138,-1,.25,-.552,.25,0C.25,.552,.138,1,0,1C-.138,1,-.25,.552,-.25,0Z"]}},"color":{"field":"v","type":"quantitative","legend":null,"scale":{"interpolate":"rgb","domain":[0,0.13,0.2,0.27,0.32,0.36,0.42,0.65,0.96,1.23,1.48,1.69,1.88,2.05,2.13,2.31,2.43,2.54,2.62,2.71,2.79,2.9,3],"range":["#f4f4fc","#c0c0e8","#a0a0e0","#7878d8","#5050c8","#3030c0","#0000b0","#0020a8","#0060a8","#0090a8","#00b0a0","#00d8a0","#00e870","#00f030","#70f000","#d0ff00","#ffff00","#ffb000","#ff8000","#ff3000","#ff0000","#e00000","#a00000"]}}}},
{"data":{"name":"rim"},"transform":[{"filter":{"field":"k","equal":"mask"}}],"mark":{"type":"point","filled":false,"opacity":1,"stroke":"white","strokeWidth":220,"clip":true,"shape":"circle"},"encoding":{"x":{"field":"x","type":"quantitative"},"y":{"field":"y","type":"quantitative"},"size":{"field":"w","type":"quantitative","legend":null,"scale":{"type":"pow","exponent":2,"domain":[0,640],"range":[0,555025]}}}},
{"data":{"name":"rim"},"transform":[{"filter":{"field":"k","equal":"edge"}}],"mark":{"type":"point","filled":false,"opacity":1,"stroke":"#444444","strokeWidth":1.5,"clip":false,"shape":"circle"},"encoding":{"x":{"field":"x","type":"quantitative"},"y":{"field":"y","type":"quantitative"},"size":{"field":"w","type":"quantitative","legend":null,"scale":{"type":"pow","exponent":2,"domain":[0,640],"range":[0,555025]}}}},
{"data":{"name":"labels"},"transform":[{"filter":{"field":"p","equal":100}}],"mark":{"type":"text","fontSize":60,"font":"Liberation Sans","color":"black","align":"center","baseline":"middle"},"encoding":{"x":{"field":"x","type":"quantitative"},"y":{"field":"y","type":"quantitative"},"text":{"field":"t"}}}
]},
{"width":745,"height":745,"layer":[
{"data":{"name":"blobs"},"transform":[{"filter":{"field":"p","equal":110}}],"mark":{"type":"point","filled":true,"opacity":1,"strokeWidth":0,"clip":true},"encoding":{"x":{"field":"x","type":"quantitative","axis":null,"scale":{"domain":[-320,320],"nice":false}},"y":{"field":"y","type":"quantitative","axis":null,"scale":{"domain":[320,-320],"nice":false}},"size":{"field":"w","type":"quantitative","legend":null,"scale":{"type":"pow","exponent":2,"domain":[0,640],"range":[0,555025]}},"shape":{"field":"a","type":"nominal","legend":null,"scale":{"domain":[0.1,0.15,0.2,0.25,0.3,0.35,0.4,0.45,0.5,0.55,0.6,0.7,0.8,0.9,1,1.25,1.5,2,2.5,3,4],"range":["M-1,0C-1,-.055,-.552,-.1,0,-.1C.552,-.1,1,-.055,1,0C1,.055,.552,.1,0,.1C-.552,.1,-1,.055,-1,0Z","M-1,0C-1,-.083,-.552,-.15,0,-.15C.552,-.15,1,-.083,1,0C1,.083,.552,.15,0,.15C-.552,.15,-1,.083,-1,0Z","M-1,0C-1,-.11,-.552,-.2,0,-.2C.552,-.2,1,-.11,1,0C1,.11,.552,.2,0,.2C-.552,.2,-1,.11,-1,0Z","M-1,0C-1,-.138,-.552,-.25,0,-.25C.552,-.25,1,-.138,1,0C1,.138,.552,.25,0,.25C-.552,.25,-1,.138,-1,0Z","M-1,0C-1,-.166,-.552,-.3,0,-.3C.552,-.3,1,-.166,1,0C1,.166,.552,.3,0,.3C-.552,.3,-1,.166,-1,0Z","M-1,0C-1,-.193,-.552,-.35,0,-.35C.552,-.35,1,-.193,1,0C1,.193,.552,.35,0,.35C-.552,.35,-1,.193,-1,0Z","M-1,0C-1,-.221,-.552,-.4,0,-.4C.552,-.4,1,-.221,1,0C1,.221,.552,.4,0,.4C-.552,.4,-1,.221,-1,0Z","M-1,0C-1,-.248,-.552,-.45,0,-.45C.552,-.45,1,-.248,1,0C1,.248,.552,.45,0,.45C-.552,.45,-1,.248,-1,0Z","M-1,0C-1,-.276,-.552,-.5,0,-.5C.552,-.5,1,-.276,1,0C1,.276,.552,.5,0,.5C-.552,.5,-1,.276,-1,0Z","M-1,0C-1,-.304,-.552,-.55,0,-.55C.552,-.55,1,-.304,1,0C1,.304,.552,.55,0,.55C-.552,.55,-1,.304,-1,0Z","M-1,0C-1,-.331,-.552,-.6,0,-.6C.552,-.6,1,-.331,1,0C1,.331,.552,.6,0,.6C-.552,.6,-1,.331,-1,0Z","M-1,0C-1,-.386,-.552,-.7,0,-.7C.552,-.7,1,-.386,1,0C1,.386,.552,.7,0,.7C-.552,.7,-1,.386,-1,0Z","M-1,0C-1,-.442,-.552,-.8,0,-.8C.552,-.8,1,-.442,1,0C1,.442,.552,.8,0,.8C-.552,.8,-1,.442,-1,0Z","M-1,0C-1,-.497,-.552,-.9,0,-.9C.552,-.9,1,-.497,1,0C1,.497,.552,.9,0,.9C-.552,.9,-1,.497,-1,0Z","M-1,0C-1,-.552,-.552,-1,0,-1C.552,-1,1,-.552,1,0C1,.552,.552,1,0,1C-.552,1,-1,.552,-1,0Z","M-.8,0C-.8,-.552,-.442,-1,0,-1C.442,-1,.8,-.552,.8,0C.8,.552,.442,1,0,1C-.442,1,-.8,.552,-.8,0Z","M-.667,0C-.667,-.552,-.368,-1,0,-1C.368,-1,.667,-.552,.667,0C.667,.552,.368,1,0,1C-.368,1,-.667,.552,-.667,0Z","M-.5,0C-.5,-.552,-.276,-1,0,-1C.276,-1,.5,-.552,.5,0C.5,.552,.276,1,0,1C-.276,1,-.5,.552,-.5,0Z","M-.4,0C-.4,-.552,-.221,-1,0,-1C.221,-1,.4,-.552,.4,0C.4,.552,.221,1,0,1C-.221,1,-.4,.552,-.4,0Z","M-.333,0C-.333,-.552,-.184,-1,0,-1C.184,-1,.333,-.552,.333,0C.333,.552,.184,1,0,1C-.184,1,-.333,.552,-.333,0Z","M-.25,0C-.25,-.552,-.138,-1,0,-1C.138,-1,.25,-.552,.25,0C.25,.552,.138,1,0,1C-.138,1,-.25,.552,-.25,0Z"]}},"color":{"field":"v","type":"quantitative","legend":null,"scale":{"interpolate":"rgb","domain":[0,0.13,0.2,0.27,0.32,0.36,0.42,0.65,0.96,1.23,1.48,1.69,1.88,2.05,2.13,2.31,2.43,2.54,2.62,2.71,2.79,2.9,3],"range":["#f4f4fc","#c0c0e8","#a0a0e0","#7878d8","#5050c8","#3030c0","#0000b0","#0020a8","#0060a8","#0090a8","#00b0a0","#00d8a0","#00e870","#00f030","#70f000","#d0ff00","#ffff00","#ffb000","#ff8000","#ff3000","#ff0000","#e00000","#a00000"]}}}},
{"data":{"name":"rim"},"transform":[{"filter":{"field":"k","equal":"mask"}}],"mark":{"type":"point","filled":false,"opacity":1,"stroke":"white","strokeWidth":220,"clip":true,"shape":"circle"},"encoding":{"x":{"field":"x","type":"quantitative"},"y":{"field":"y","type":"quantitative"},"size":{"field":"w","type":"quantitative","legend":null,"scale":{"type":"pow","exponent":2,"domain":[0,640],"range":[0,555025]}}}},
{"data":{"name":"rim"},"transform":[{"filter":{"field":"k","equal":"edge"}}],"mark":{"type":"point","filled":false,"opacity":1,"stroke":"#444444","strokeWidth":1.5,"clip":false,"shape":"circle"},"encoding":{"x":{"field":"x","type":"quantitative"},"y":{"field":"y","type":"quantitative"},"size":{"field":"w","type":"quantitative","legend":null,"scale":{"type":"pow","exponent":2,"domain":[0,640],"range":[0,555025]}}}},
{"data":{"name":"labels"},"transform":[{"filter":{"field":"p","equal":110}}],"mark":{"type":"text","fontSize":60,"font":"Liberation Sans","color":"black","align":"center","baseline":"middle"},"encoding":{"x":{"field":"x","type":"quantitative"},"y":{"field":"y","type":"quantitative"},"text":{"field":"t"}}}
]},
{"width":745,"height":745,"layer":[
{"data":{"name":"blobs"},"transform":[{"filter":{"field":"p","equal":111}}],"mark":{"type":"point","filled":true,"opacity":1,"strokeWidth":0,"clip":true},"encoding":{"x":{"field":"x","type":"quantitative","axis":null,"scale":{"domain":[-320,320],"nice":false}},"y":{"field":"y","type":"quantitative","axis":null,"scale":{"domain":[320,-320],"nice":false}},"size":{"field":"w","type":"quantitative","legend":null,"scale":{"type":"pow","exponent":2,"domain":[0,640],"range":[0,555025]}},"shape":{"field":"a","type":"nominal","legend":null,"scale":{"domain":[0.1,0.15,0.2,0.25,0.3,0.35,0.4,0.45,0.5,0.55,0.6,0.7,0.8,0.9,1,1.25,1.5,2,2.5,3,4],"range":["M-1,0C-1,-.055,-.552,-.1,0,-.1C.552,-.1,1,-.055,1,0C1,.055,.552,.1,0,.1C-.552,.1,-1,.055,-1,0Z","M-1,0C-1,-.083,-.552,-.15,0,-.15C.552,-.15,1,-.083,1,0C1,.083,.552,.15,0,.15C-.552,.15,-1,.083,-1,0Z","M-1,0C-1,-.11,-.552,-.2,0,-.2C.552,-.2,1,-.11,1,0C1,.11,.552,.2,0,.2C-.552,.2,-1,.11,-1,0Z","M-1,0C-1,-.138,-.552,-.25,0,-.25C.552,-.25,1,-.138,1,0C1,.138,.552,.25,0,.25C-.552,.25,-1,.138,-1,0Z","M-1,0C-1,-.166,-.552,-.3,0,-.3C.552,-.3,1,-.166,1,0C1,.166,.552,.3,0,.3C-.552,.3,-1,.166,-1,0Z","M-1,0C-1,-.193,-.552,-.35,0,-.35C.552,-.35,1,-.193,1,0C1,.193,.552,.35,0,.35C-.552,.35,-1,.193,-1,0Z","M-1,0C-1,-.221,-.552,-.4,0,-.4C.552,-.4,1,-.221,1,0C1,.221,.552,.4,0,.4C-.552,.4,-1,.221,-1,0Z","M-1,0C-1,-.248,-.552,-.45,0,-.45C.552,-.45,1,-.248,1,0C1,.248,.552,.45,0,.45C-.552,.45,-1,.248,-1,0Z","M-1,0C-1,-.276,-.552,-.5,0,-.5C.552,-.5,1,-.276,1,0C1,.276,.552,.5,0,.5C-.552,.5,-1,.276,-1,0Z","M-1,0C-1,-.304,-.552,-.55,0,-.55C.552,-.55,1,-.304,1,0C1,.304,.552,.55,0,.55C-.552,.55,-1,.304,-1,0Z","M-1,0C-1,-.331,-.552,-.6,0,-.6C.552,-.6,1,-.331,1,0C1,.331,.552,.6,0,.6C-.552,.6,-1,.331,-1,0Z","M-1,0C-1,-.386,-.552,-.7,0,-.7C.552,-.7,1,-.386,1,0C1,.386,.552,.7,0,.7C-.552,.7,-1,.386,-1,0Z","M-1,0C-1,-.442,-.552,-.8,0,-.8C.552,-.8,1,-.442,1,0C1,.442,.552,.8,0,.8C-.552,.8,-1,.442,-1,0Z","M-1,0C-1,-.497,-.552,-.9,0,-.9C.552,-.9,1,-.497,1,0C1,.497,.552,.9,0,.9C-.552,.9,-1,.497,-1,0Z","M-1,0C-1,-.552,-.552,-1,0,-1C.552,-1,1,-.552,1,0C1,.552,.552,1,0,1C-.552,1,-1,.552,-1,0Z","M-.8,0C-.8,-.552,-.442,-1,0,-1C.442,-1,.8,-.552,.8,0C.8,.552,.442,1,0,1C-.442,1,-.8,.552,-.8,0Z","M-.667,0C-.667,-.552,-.368,-1,0,-1C.368,-1,.667,-.552,.667,0C.667,.552,.368,1,0,1C-.368,1,-.667,.552,-.667,0Z","M-.5,0C-.5,-.552,-.276,-1,0,-1C.276,-1,.5,-.552,.5,0C.5,.552,.276,1,0,1C-.276,1,-.5,.552,-.5,0Z","M-.4,0C-.4,-.552,-.221,-1,0,-1C.221,-1,.4,-.552,.4,0C.4,.552,.221,1,0,1C-.221,1,-.4,.552,-.4,0Z","M-.333,0C-.333,-.552,-.184,-1,0,-1C.184,-1,.333,-.552,.333,0C.333,.552,.184,1,0,1C-.184,1,-.333,.552,-.333,0Z","M-.25,0C-.25,-.552,-.138,-1,0,-1C.138,-1,.25,-.552,.25,0C.25,.552,.138,1,0,1C-.138,1,-.25,.552,-.25,0Z"]}},"color":{"field":"v","type":"quantitative","legend":null,"scale":{"interpolate":"rgb","domain":[0,0.13,0.2,0.27,0.32,0.36,0.42,0.65,0.96,1.23,1.48,1.69,1.88,2.05,2.13,2.31,2.43,2.54,2.62,2.71,2.79,2.9,3],"range":["#f4f4fc","#c0c0e8","#a0a0e0","#7878d8","#5050c8","#3030c0","#0000b0","#0020a8","#0060a8","#0090a8","#00b0a0","#00d8a0","#00e870","#00f030","#70f000","#d0ff00","#ffff00","#ffb000","#ff8000","#ff3000","#ff0000","#e00000","#a00000"]}}}},
{"data":{"name":"rim"},"transform":[{"filter":{"field":"k","equal":"mask"}}],"mark":{"type":"point","filled":false,"opacity":1,"stroke":"white","strokeWidth":220,"clip":true,"shape":"circle"},"encoding":{"x":{"field":"x","type":"quantitative"},"y":{"field":"y","type":"quantitative"},"size":{"field":"w","type":"quantitative","legend":null,"scale":{"type":"pow","exponent":2,"domain":[0,640],"range":[0,555025]}}}},
{"data":{"name":"rim"},"transform":[{"filter":{"field":"k","equal":"edge"}}],"mark":{"type":"point","filled":false,"opacity":1,"stroke":"#444444","strokeWidth":1.5,"clip":false,"shape":"circle"},"encoding":{"x":{"field":"x","type":"quantitative"},"y":{"field":"y","type":"quantitative"},"size":{"field":"w","type":"quantitative","legend":null,"scale":{"type":"pow","exponent":2,"domain":[0,640],"range":[0,555025]}}}},
{"data":{"name":"labels"},"transform":[{"filter":{"field":"p","equal":111}}],"mark":{"type":"text","fontSize":60,"font":"Liberation Sans","color":"black","align":"center","baseline":"middle"},"encoding":{"x":{"field":"x","type":"quantitative"},"y":{"field":"y","type":"quantitative"},"text":{"field":"t"}}}
]},
{"width":745,"height":745,"layer":[
{"data":{"name":"bar"},"mark":{"type":"rect"},"encoding":{"x":{"field":"v","type":"quantitative","axis":null,"scale":{"domain":[-0.296,3.279],"nice":false}},"x2":{"field":"e"},"y":{"datum":-44,"type":"quantitative","axis":null,"scale":{"domain":[320,-320],"nice":false}},"y2":{"datum":58},"color":{"field":"v","type":"quantitative","legend":null,"scale":{"interpolate":"rgb","domain":[0,0.13,0.2,0.27,0.32,0.36,0.42,0.65,0.96,1.23,1.48,1.69,1.88,2.05,2.13,2.31,2.43,2.54,2.62,2.71,2.79,2.9,3],"range":["#f4f4fc","#c0c0e8","#a0a0e0","#7878d8","#5050c8","#3030c0","#0000b0","#0020a8","#0060a8","#0090a8","#00b0a0","#00d8a0","#00e870","#00f030","#70f000","#d0ff00","#ffff00","#ffb000","#ff8000","#ff3000","#ff0000","#e00000","#a00000"]}}}},
{"data":{"name":"barlabels"},"mark":{"type":"text","fontSize":56,"font":"Liberation Sans","color":"black","align":"center","baseline":"middle"},"encoding":{"x":{"field":"v","type":"quantitative"},"y":{"field":"y","type":"quantitative"},"text":{"field":"t"}}}
]}
],"columns":2,"spacing":{"row":166,"column":178},"bounds":"flush"}
